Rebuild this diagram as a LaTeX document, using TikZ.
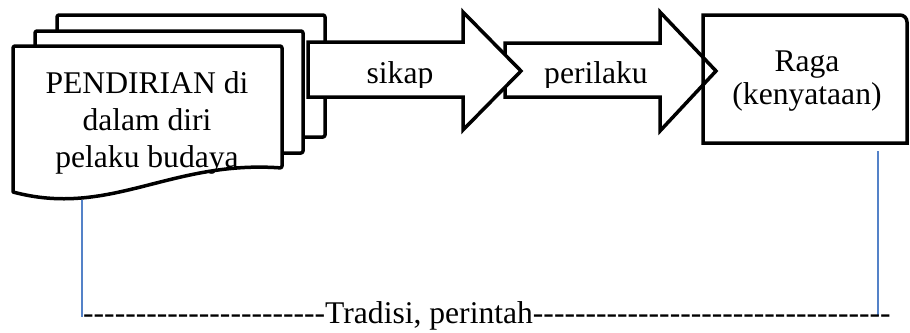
\documentclass[tikz,border=0pt]{standalone}
\usepackage{fontspec}
\setmainfont{Liberation Serif}
\definecolor{guideblue}{RGB}{84,130,200}
\newcommand\onehyph{\mbox{-}}
\newcommand\hyphrun[1]{\foreach \i in {1,...,#1}{\onehyph}}
\begin{document}
\begin{tikzpicture}[x=1pt,y=-1pt,
  outline/.style={draw=black, line width=3.5pt, fill=white, line join=round},
  lbl/.style={font=\fontsize{31.6}{37}\selectfont, inner sep=0pt, align=center},
  guide/.style={draw=guideblue, line width=1.2pt}]
\useasboundingbox[fill=white] (0,0) rectangle (910,332);

% stacked documents
\draw[outline, rounded corners=2pt] (57,15) rectangle (325,137);
\draw[outline, rounded corners=2pt] (35,31) rectangle (303,153);
\draw[outline, rounded corners=2pt] (13,192) -- (13,46) -- (282,46) -- (282,168)
   [sharp corners] .. controls (170,160) and (110,218) .. (13,192) -- cycle;
\node[lbl] (pend) at (147,122.6) {PENDIRIAN di\\dalam diri\\pelaku budaya};

% arrow 2 (perilaku)
\draw[outline, line join=miter] (505,43) -- (660,43) -- (660,12) -- (716,71) -- (660,131) -- (660,97) -- (505,97) -- cycle;
\begin{scope}
  \clip (500,40) rectangle (700,87);
  \node[lbl, anchor=base] (peri) at (596,83) {perilaku};
\end{scope}

% arrow 1 (sikap)
\draw[outline, line join=miter] (308,42) -- (463,42) -- (463,12) -- (521,71) -- (463,130) -- (463,97) -- (308,97) -- cycle;
\begin{scope}
  \clip (300,40) rectangle (470,87);
  \node[lbl, anchor=base] (sikap) at (400,83) {sikap};
\end{scope}

% Raga box
\draw[draw=black, line width=3.5pt] (703,143) -- (703,15) [rounded corners=7pt] -- (907,15) [sharp corners] -- (907,143) -- cycle;
\node[lbl, font=\fontsize{31.6}{33}\selectfont] (raga) at (807,81.3) {Raga\\(kenyataan)};

% guide lines
\coordinate (gl1) at (82,200);
\coordinate (gl2) at (82,317);
\coordinate (gr1) at (878,151);
\coordinate (gr2) at (878,316);
\draw[guide] (gl1) -- (gl2);
\draw[guide] (gr1) -- (gr2);

\node[lbl, anchor=base west] (trad) at (83,323) {\hyphrun{23}Tradisi, perintah\hyphrun{34}};
\end{tikzpicture}
\end{document}
